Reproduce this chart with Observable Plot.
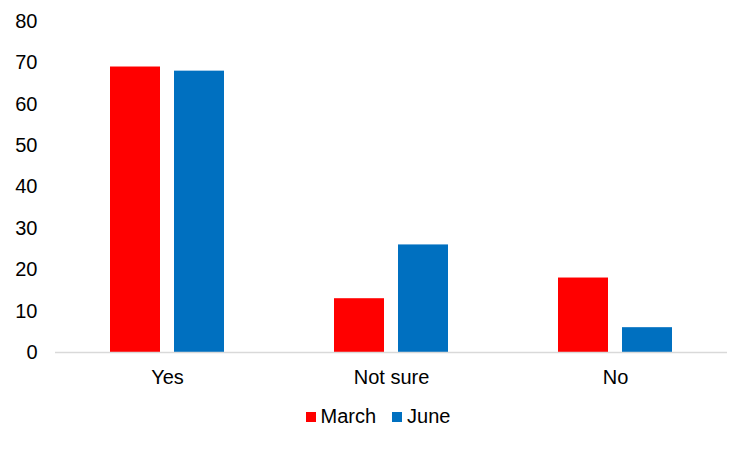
<!DOCTYPE html>
<html>
<head>
<meta charset="utf-8">
<script src="https://cdn.jsdelivr.net/npm/d3@7"></script>
<script src="https://cdn.jsdelivr.net/npm/@observablehq/plot@0.6"></script>
<style>
  body { margin: 0; background: #fff; font-family: "Liberation Sans", Arial, sans-serif; }
  #wrap { width: 750px; position: relative; }
  .legend { display: flex; justify-content: center; align-items: center; font-size: 20px; color: #000; margin-top: 10px; padding-left: 6px; }
  .legend .item { display: flex; align-items: center; margin: 0 8px; }
  .legend .sw { width: 10px; height: 10px; margin-right: 5px; }
</style>
</head>
<body>
<div id="wrap"></div>
<script>
const categories = ["Yes", "Not sure", "No"];
const seriesNames = ["March", "June"];
const march = [69, 13, 18];
const june = [68, 26, 6];
const colors = ["#ff0000", "#0070c0"];
const yTicks = [0, 10, 20, 30, 40, 50, 60, 70, 80];

const data = [];
categories.forEach((c, i) => {
  data.push({category: c, series: "March", value: march[i]});
  data.push({category: c, series: "June", value: june[i]});
});

const chart = Plot.plot({
  width: 750,
  height: 395,
  marginTop: 21,
  marginBottom: 43,
  marginLeft: 55,
  marginRight: 23,
  style: {fontFamily: "'Liberation Sans', Arial, sans-serif", fontSize: "20px", color: "#000", background: "#fff"},
  fx: {domain: categories, padding: 0, label: null, axis: "bottom", tickSize: 0, tickPadding: 17},
  x: {domain: seriesNames, axis: null, paddingInner: 0.21875, paddingOuter: 0.859375},
  y: {domain: [0, 80], ticks: yTicks, label: null, tickSize: 0, tickPadding: 18},
  color: {domain: seriesNames, range: colors},
  marks: [
    Plot.barY(data, {fx: "category", x: "series", y: "value", fill: "series"}),
    Plot.ruleY([0], {stroke: "#d9d9d9", strokeWidth: 1.5})
  ]
});
document.getElementById("wrap").appendChild(chart);

const legend = document.createElement("div");
legend.className = "legend";
seriesNames.forEach((s, i) => {
  const item = document.createElement("div");
  item.className = "item";
  const sw = document.createElement("span");
  sw.className = "sw";
  sw.style.background = colors[i];
  const t = document.createElement("span");
  t.textContent = s;
  item.appendChild(sw);
  item.appendChild(t);
  legend.appendChild(item);
});
document.getElementById("wrap").appendChild(legend);
</script>
</body>
</html>
